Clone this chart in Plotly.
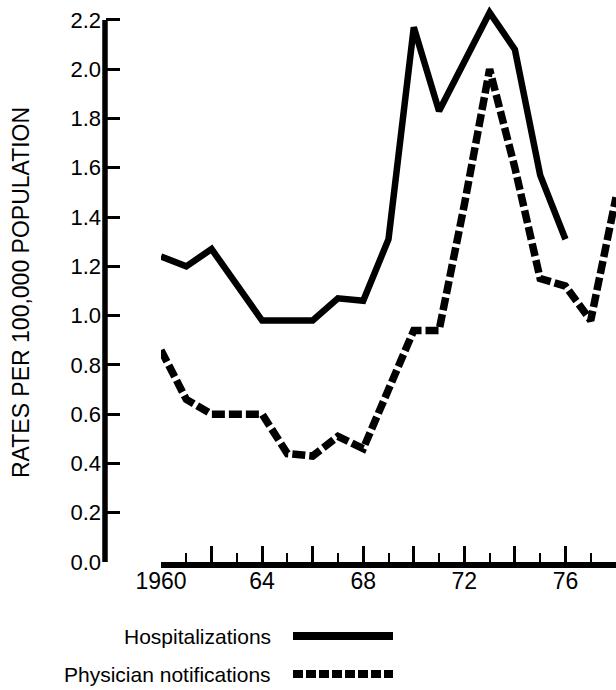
import plotly.graph_objects as go

# ---- data ----
years = list(range(1960, 1979))
hospitalizations = [1.24, 1.20, 1.27, 1.13, 0.98, 0.98, 0.98, 1.07, 1.06, 1.31,
                    2.17, 1.83, 2.03, 2.23, 2.08, 1.57, 1.31]
physician_notifications = [0.86, 0.66, 0.60, 0.60, 0.60, 0.44, 0.43, 0.51, 0.46, 0.70,
                           0.94, 0.94, 1.45, 2.00, 1.60, 1.15, 1.12, 0.98, 1.48]
x_major_ticks = list(range(1960, 1979, 2))
x_major_text = ["1960", "", "64", "", "68", "", "72", "", "76", ""]
y_ticks = [0.0, 0.2, 0.4, 0.6, 0.8, 1.0, 1.2, 1.4, 1.6, 1.8, 2.0, 2.2]
series_names = ["Hospitalizations", "Physician notifications"]
y_title = "RATES PER 100,000 POPULATION"

# ---- layout geometry (pixels) ----
W, H = 616, 690
L, R, T, B = 105, 0, 0, 128
PW, PH = W - L - R, H - T - B
FONT = "Liberation Sans, Arial, Helvetica, sans-serif"


def px_x(px):
    return (px - L) / PW


def px_y(py):
    return (H - B - py) / PH


y_top = (H - B) / 246.4  # data value at the top of plot area

fig = go.Figure()
fig.add_trace(go.Scatter(
    x=years[:len(hospitalizations)], y=hospitalizations, mode="lines",
    name=series_names[0], showlegend=False,
    line=dict(color="black", width=6.5)))
fig.add_trace(go.Scatter(
    x=years, y=physician_notifications, mode="lines",
    name=series_names[1], showlegend=False,
    line=dict(color="black", width=7.5, dash="13px,4px")))

fig.update_layout(
    width=W, height=H,
    margin=dict(l=L, r=R, t=T, b=B, pad=0),
    paper_bgcolor="white", plot_bgcolor="white",
    font=dict(family=FONT, color="black"),
    xaxis=dict(
        domain=[px_x(161), 1], range=[1960, 1978],
        showline=True, linewidth=6, linecolor="black",
        showgrid=False, zeroline=False,
        tickmode="array", tickvals=x_major_ticks, ticktext=x_major_text,
        ticks="inside", ticklen=16, tickwidth=2.5, tickcolor="black",
        minor=dict(dtick=1, tick0=1960, ticks="inside", ticklen=9,
                   tickwidth=2, tickcolor="black", showgrid=False),
        tickfont=dict(size=23, family=FONT, color="black"),
        ticklabelstandoff=-7,
    ),
    yaxis=dict(
        anchor="free", position=0, range=[0, y_top],
        showline=False, showgrid=False, zeroline=False,
        tickmode="array", tickvals=y_ticks, tickformat=".1f",
        ticks="inside", ticklen=14, tickwidth=2.5, tickcolor="black",
        tickfont=dict(size=22, family=FONT, color="black"),
        ticklabelstandoff=4,
    ),
    shapes=[
        # y axis line (ends at the 2.2 tick)
        dict(type="line", xref="paper", yref="y", x0=0, x1=0, y0=0, y1=2.2,
             line=dict(color="black", width=5.5)),
        # legend samples
        dict(type="line", xref="paper", yref="paper",
             x0=px_x(293), x1=px_x(393), y0=px_y(636), y1=px_y(636),
             line=dict(color="black", width=8)),
        dict(type="line", xref="paper", yref="paper",
             x0=px_x(293), x1=px_x(393), y0=px_y(674), y1=px_y(674),
             line=dict(color="black", width=8, dash="10px,3px")),
    ],
    annotations=[
        dict(text=y_title, textangle=-90, xref="paper", yref="paper",
             x=px_x(21), y=px_y(293), xanchor="center", yanchor="middle",
             showarrow=False, font=dict(size=23, family=FONT, color="black")),
        dict(text=series_names[0], xref="paper", yref="paper",
             x=px_x(273), y=px_y(636), xanchor="right", yanchor="middle",
             showarrow=False, font=dict(size=21, family=FONT, color="black")),
        dict(text=series_names[1], xref="paper", yref="paper",
             x=px_x(273), y=px_y(674), xanchor="right", yanchor="middle",
             showarrow=False, font=dict(size=21, family=FONT, color="black")),
    ],
)

fig.write_html(
    "out.html",
    config={"displayModeBar": False},
    post_script="document.body.style.margin='0';document.body.style.padding='0';",
)
